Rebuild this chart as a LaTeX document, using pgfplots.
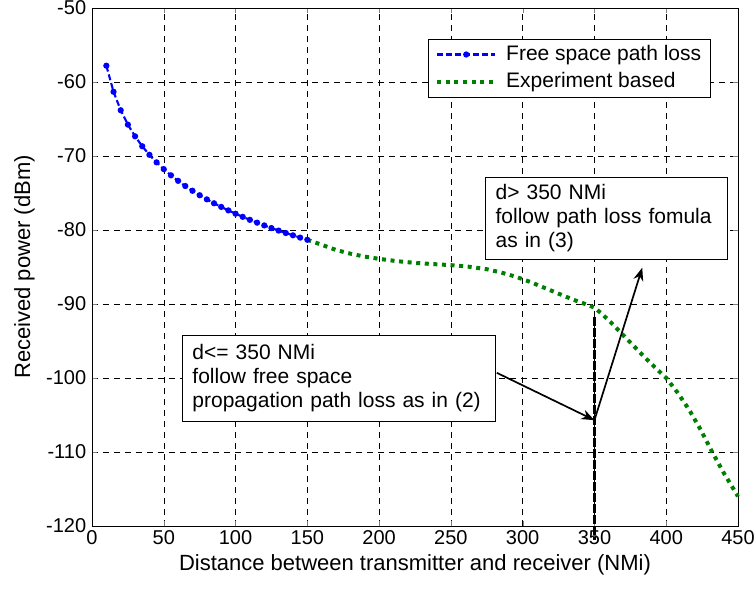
\documentclass[border=0pt]{standalone}
\usepackage{fontspec}
\setmainfont{Liberation Sans}
\usepackage{pgfplots}
\pgfplotsset{compat=1.18}
\usetikzlibrary{arrows.meta}
\definecolor{mgreen}{RGB}{0,128,0}
\begin{document}
\fontsize{20}{24}\selectfont
\begin{tikzpicture}
\begin{axis}[
  name=ax,
  scale only axis,
  width=646pt, height=518pt,
  xmin=0, xmax=450, ymin=-120, ymax=-50,
  xtick={0,50,...,450}, ytick={-120,-110,...,-50},
  /pgf/number format/assume math mode=true,
  tick label style={font=\fontsize{20}{24}\selectfont},
  xticklabel style={yshift=2pt},
  yticklabel style={xshift=1pt},
  xlabel={Distance between transmitter and receiver (NMi)},
  ylabel={Received power (dBm)},
  xlabel style={font=\fontsize{22}{26}\selectfont, yshift=4pt},
  ylabel style={font=\fontsize{22}{26}\selectfont, yshift=-2pt},
  grid=major,
  major grid style={black, dash pattern=on 6pt off 5pt, line width=0.5pt},
  tick align=inside, tick pos=both,
  major tick length=5pt,
  axis line style={black, line width=0.9pt},
  legend style={at={(0.52,0.94)}, anchor=north west, draw=black, fill=white,
    font=\fontsize{21}{25}\selectfont, inner xsep=7pt, inner ysep=4pt, row sep=5pt,
    line width=0.6pt, /tikz/every odd column/.append style={column sep=7pt}},
  legend image code/.code={\draw[mark repeat=2, mark phase=2, #1] plot coordinates {(0pt,0pt) (29pt,0pt) (58pt,0pt)};},
  legend cell align=left,
  clip=false,
]
\addplot[blue, line width=2.1pt, dash pattern=on 6pt off 3pt, mark=*, mark size=2pt, mark options={solid}] coordinates {
(10,-57.8) (15,-61.32) (20,-63.82) (25,-65.76) (30,-67.34) (35,-68.68)
(40,-69.84) (45,-70.86) (50,-71.78) (55,-72.61) (60,-73.36) (65,-74.06)
(70,-74.70) (75,-75.30) (80,-75.86) (85,-76.39) (90,-76.88) (95,-77.35)
(100,-77.8) (105,-78.22) (110,-78.63) (115,-79.01) (120,-79.38) (125,-79.74)
(130,-80.08) (135,-80.41) (140,-80.72) (145,-81.03) (150,-81.32)
};
\addlegendentry{Free space path loss}
\addplot[mgreen, line width=4pt, dash pattern=on 4pt off 4.6pt] coordinates {
(150,-81.32) (160,-82.0) (170,-82.7) (180,-83.2) (190,-83.6) (200,-83.9)
(212,-84.2) (225,-84.45) (237,-84.6) (250,-84.75) (262,-84.95) (275,-85.3)
(285,-85.75) (295,-86.3) (305,-87.0) (315,-87.8) (325,-88.6) (335,-89.4)
(345,-90.1) (350,-90.5) (355,-91.3) (362,-92.6) (370,-94.2) (378,-95.8)
(386,-97.4) (394,-98.9) (400,-100.0) (408,-102.0) (416,-104.3) (424,-107.0)
(432,-110.0) (440,-112.8) (450,-116.0)
};
\addlegendentry{Experiment based}
\draw[black, line width=2.4pt, dash pattern=on 9pt off 2pt] (axis cs:350,-91.7) -- (axis cs:350,-121.9);
\node[draw=black, fill=white, line width=0.6pt, align=left, anchor=north west, inner xsep=10pt, inner ysep=6pt,
  text width=293pt, minimum height=86pt, font=\fontsize{21}{24}\selectfont] at (axis cs:62.8,-94.2)
  {d<= 350 NMi\\follow free space\\propagation path loss as in (2)};
\node[draw=black, fill=white, line width=0.6pt, align=left, anchor=north west, inner xsep=10pt, inner ysep=5pt,
  text width=222pt, minimum height=82pt, font=\fontsize{21}{24}\selectfont] at (axis cs:274,-72.8)
  {d> 350 NMi\\follow path loss fomula\\as in (3)};
\draw[black, line width=1.7pt, -{Stealth[length=13pt, width=10pt]}] (axis cs:282,-99.3) -- (axis cs:350,-105.7);
\draw[black, line width=1.7pt, -{Stealth[length=13pt, width=10pt]}] (axis cs:350,-105.7) -- (axis cs:383.3,-85.1);
\end{axis}
\pgfresetboundingbox
\useasboundingbox ([shift={(-92pt,-64pt)}]ax.south west) rectangle ([shift={(17pt,8pt)}]ax.north east);
\end{tikzpicture}
\end{document}
